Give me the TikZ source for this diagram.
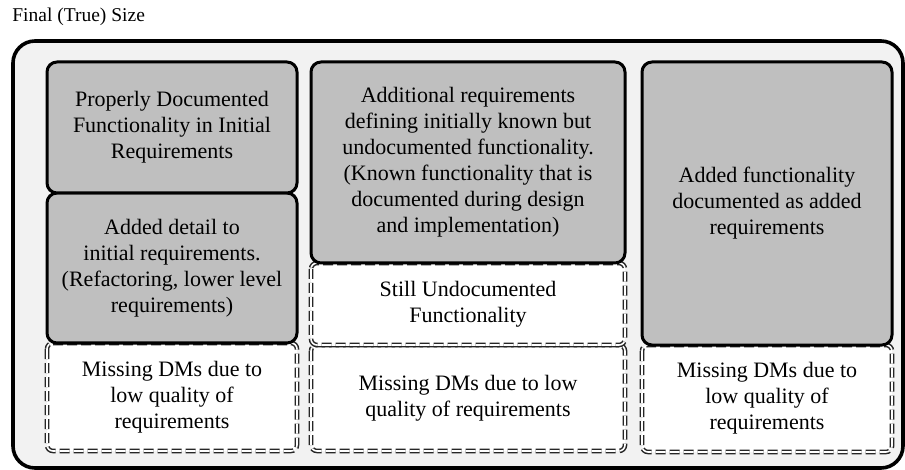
\documentclass[tikz,border=0pt]{standalone}
\usepackage{fontspec}
\setmainfont{Liberation Serif}
\tikzset{
  outerbox/.style={draw, line width=1.8pt, rounded corners=11pt, fill=black!5},
  graybox/.style={draw, line width=1.5pt, rounded corners=5pt, fill=black!25},
  dmbox/.style={draw=black!85, line width=0.75pt, double=white, double distance=0.8pt,
    dash pattern=on 5pt off 2pt, rounded corners=3pt, fill=white},
  txt/.style={align=center, font=\fontsize{11}{13}\selectfont, inner sep=0pt},
}
\begin{document}
\begin{tikzpicture}[x=0.5pt, y=-0.5pt]
    \useasboundingbox (0,0) rectangle (905,470);
    \node[anchor=west, inner sep=0pt, font=\fontsize{9.75}{12}\selectfont] (title) at (12,17) {Final (True) Size};
    \draw[outerbox] (13,41) rectangle (903,468);

    % first column
    \draw[dmbox] (47,343) rectangle (297,451);
    \draw[graybox] (47,193) rectangle (297,343);
    \draw[graybox] (47,62) rectangle (297,193);
    \node[txt] (prop) at (172,127.5) {Properly Documented\\Functionality in Initial\\Requirements};
    \node[txt] (detail) at (172,268) {Added detail to\\initial requirements.\\(Refactoring, lower level\\requirements)};
    \node[txt] (missA) at (172,397) {Missing DMs due to\\low quality of\\requirements};

    % second column
    \draw[dmbox] (311,345) rectangle (625,451);
    \draw[dmbox] (311,263) rectangle (625,345);
    \draw[graybox] (311,62) rectangle (625,263);
    \node[txt] (known) at (468,162.5) {Additional requirements\\defining initially known but\\undocumented functionality.\\(Known functionality that is\\documented during design\\and implementation)};
    \node[txt] (still) at (468,304) {Still Undocumented\\Functionality};
    \node[txt] (missB) at (468,398) {Missing DMs due to low\\quality of requirements};

    % third column
    \draw[dmbox] (642,345) rectangle (892,452);
    \draw[graybox] (642,62) rectangle (892,345);
    \node[txt] (added) at (767,203.5) {Added functionality\\documented as added\\requirements};
    \node[txt] (missC) at (767,398) {Missing DMs due to\\low quality of\\requirements};
\end{tikzpicture}
\end{document}
